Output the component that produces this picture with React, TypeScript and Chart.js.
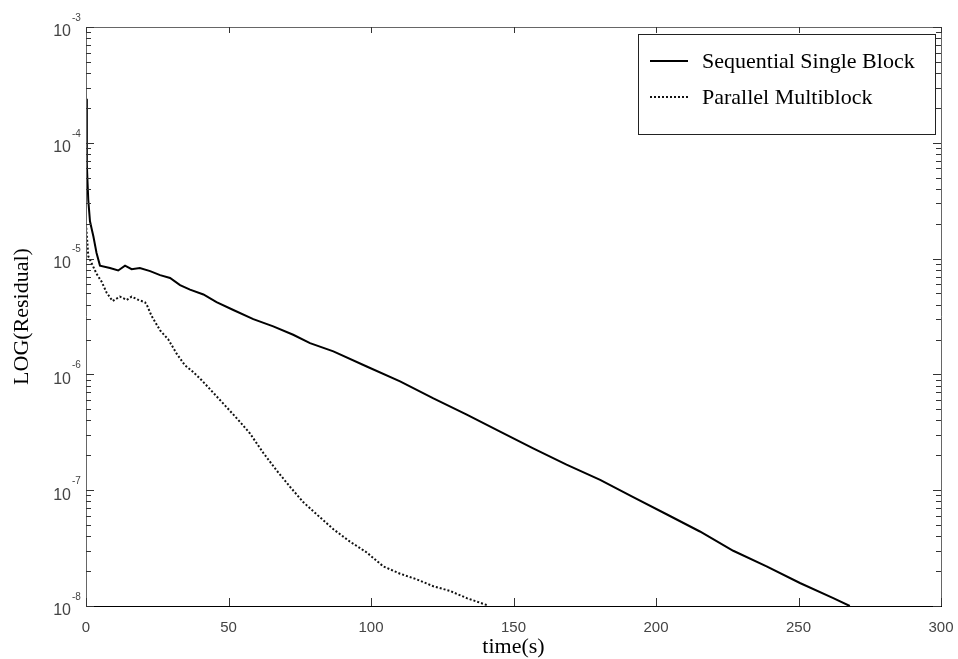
import React, { useEffect, useRef } from "react";
import { Chart, registerables } from "chart.js";

Chart.register(...registerables);

// ---- data ----
const seqTime = [0, 0.3, 0.5, 0.8, 1.4, 2.0, 2.6, 3.7, 4.9, 8.4, 11.3, 13.7, 16, 18.9, 22.5, 26, 29.5, 33, 36.5, 41.2, 45.8, 51.7, 58.7, 65.7, 72.7, 78.6, 86.8, 98.5, 110.2, 121.9, 133.6, 145.3, 156.9, 168.6, 180.4, 192, 203.7, 215.4, 227.1, 238.8, 250.5, 262.2, 268];
const seqResidual = [2.4e-4, 6.5e-5, 4.8e-5, 3.2e-5, 2.1e-5, 1.8e-5, 1.55e-5, 1.12e-5, 8.7e-6, 8.3e-6, 7.9e-6, 8.7e-6, 8.1e-6, 8.3e-6, 7.8e-6, 7.2e-6, 6.8e-6, 5.9e-6, 5.4e-6, 4.9e-6, 4.2e-6, 3.6e-6, 3.0e-6, 2.6e-6, 2.2e-6, 1.86e-6, 1.58e-6, 1.17e-6, 8.7e-7, 6.2e-7, 4.5e-7, 3.2e-7, 2.3e-7, 1.66e-7, 1.23e-7, 8.7e-8, 6.2e-8, 4.4e-8, 3.0e-8, 2.2e-8, 1.58e-8, 1.17e-8, 1.0e-8];

const parTime = [0, 0.8, 2.0, 3.7, 5.5, 7.2, 9.3, 11.9, 14.3, 16, 18.4, 20.7, 21.5, 23, 26, 28.9, 31.8, 34.7, 37.6, 40.6, 45, 50, 54, 57.5, 62.2, 66.9, 71.6, 76.2, 80.9, 86.8, 92.6, 98.5, 104.3, 110.2, 116, 121.9, 127.7, 133.6, 140.6];
const parResidual = [2.0e-5, 1.05e-5, 9.1e-6, 7.4e-6, 6.3e-6, 5.1e-6, 4.3e-6, 4.7e-6, 4.4e-6, 4.7e-6, 4.4e-6, 4.2e-6, 3.9e-6, 3.2e-6, 2.4e-6, 2.0e-6, 1.51e-6, 1.2e-6, 1.05e-6, 8.9e-7, 6.8e-7, 5.0e-7, 3.9e-7, 3.1e-7, 2.1e-7, 1.48e-7, 1.07e-7, 7.9e-8, 6.2e-8, 4.6e-8, 3.6e-8, 2.9e-8, 2.2e-8, 1.9e-8, 1.7e-8, 1.48e-8, 1.35e-8, 1.17e-8, 1.02e-8];

const seriesNames = ["Sequential Single Block", "Parallel Multiblock"];
const xTicks = [0, 50, 100, 150, 200, 250, 300];
const yExponents = [-3, -4, -5, -6, -7, -8];
const yMinorMantissas = [2, 3, 4, 5, 6, 7, 8, 9];
const xTitle = "time(s)";
const yTitle = "LOG(Residual)";

const SANS = "'Liberation Sans', Arial, sans-serif";
const SERIF = "'Liberation Serif', 'Times New Roman', serif";

const framePlugin = {
  id: "framePlugin",
  afterDraw(chart: any) {
    const ctx = chart.ctx as CanvasRenderingContext2D;
    const xs = chart.scales.x;
    const ys = chart.scales.y;
    const { left, right, top, bottom } = chart.chartArea;
    ctx.save();
    // frame
    ctx.lineWidth = 1;
    ctx.strokeStyle = "#666";
    ctx.beginPath();
    ctx.moveTo(left + 0.5, bottom);
    ctx.lineTo(left + 0.5, top + 0.5);
    ctx.lineTo(right + 0.5, top + 0.5);
    ctx.lineTo(right + 0.5, bottom);
    ctx.stroke();
    ctx.strokeStyle = "#000";
    ctx.beginPath();
    ctx.moveTo(left, bottom + 0.5);
    ctx.lineTo(right + 1, bottom + 0.5);
    ctx.stroke();

    // y ticks (major + minor), inward on both sides
    ctx.strokeStyle = "#333";
    ctx.beginPath();
    for (const e of yExponents) {
      const y = Math.round(ys.getPixelForValue(Math.pow(10, e))) + 0.5;
      ctx.moveTo(left, y); ctx.lineTo(left + 8, y);
      ctx.moveTo(right, y); ctx.lineTo(right - 8, y);
      if (e > -8) {
        for (const m of yMinorMantissas) {
          const yy = Math.round(ys.getPixelForValue(m * Math.pow(10, e - 1))) + 0.5;
          ctx.moveTo(left, yy); ctx.lineTo(left + 5, yy);
          ctx.moveTo(right, yy); ctx.lineTo(right - 5, yy);
        }
      }
    }
    // x ticks inward top & bottom
    for (const t of xTicks) {
      const x = Math.round(xs.getPixelForValue(t)) + 0.5;
      ctx.moveTo(x, bottom); ctx.lineTo(x, bottom - 8);
      ctx.moveTo(x, top); ctx.lineTo(x, top + 6);
    }
    ctx.stroke();

    // y tick labels 10^e
    ctx.fillStyle = "#444";
    for (const e of yExponents) {
      const y = ys.getPixelForValue(Math.pow(10, e));
      ctx.font = `16px ${SANS}`;
      ctx.textAlign = "right";
      ctx.textBaseline = "middle";
      ctx.fillText("10", left - 15, y + 5);
      ctx.font = `10px ${SANS}`;
      ctx.textAlign = "left";
      ctx.fillText(String(e), left - 14, y - 9);
    }
    // x tick labels
    ctx.font = `15px ${SANS}`;
    ctx.textAlign = "center";
    ctx.textBaseline = "middle";
    for (const t of xTicks) {
      ctx.fillText(String(t), xs.getPixelForValue(t), bottom + 22);
    }

    // axis titles
    ctx.fillStyle = "#000";
    ctx.font = `22px ${SERIF}`;
    ctx.textAlign = "center";
    ctx.textBaseline = "middle";
    ctx.fillText(xTitle, (left + right) / 2, bottom + 41);
    ctx.save();
    ctx.translate(22, (top + bottom) / 2);
    ctx.rotate(-Math.PI / 2);
    ctx.fillText(yTitle, 0, 0);
    ctx.restore();

    // legend box
    const bx = 638.5, by = 34.5, bw = 297, bh = 100;
    ctx.fillStyle = "#fff";
    ctx.fillRect(bx, by, bw, bh);
    ctx.strokeStyle = "#222";
    ctx.lineWidth = 1;
    ctx.strokeRect(bx, by, bw, bh);
    const rows = [61, 97];
    chart.data.datasets.forEach((ds: any, i: number) => {
      const y = rows[i];
      ctx.strokeStyle = ds.borderColor;
      ctx.lineWidth = ds.borderWidth;
      ctx.setLineDash(ds.borderDash || []);
      ctx.beginPath();
      ctx.moveTo(650, y);
      ctx.lineTo(688, y);
      ctx.stroke();
      ctx.setLineDash([]);
      ctx.fillStyle = "#000";
      ctx.font = `22px ${SERIF}`;
      ctx.textAlign = "left";
      ctx.textBaseline = "middle";
      ctx.fillText(ds.label, 702, y + 1);
    });
    ctx.restore();
  },
};

export default function App() {
  const ref = useRef<HTMLCanvasElement | null>(null);
  useEffect(() => {
    document.body.style.margin = "0";
    const canvas = ref.current!;
    const chart = new Chart(canvas, {
      type: "line",
      data: {
        datasets: [
          {
            label: seriesNames[0],
            data: seqTime.map((t, i) => ({ x: t, y: seqResidual[i] })),
            borderColor: "#000",
            borderWidth: 2,
            pointRadius: 0,
            tension: 0,
          },
          {
            label: seriesNames[1],
            data: parTime.map((t, i) => ({ x: t, y: parResidual[i] })),
            borderColor: "#111",
            borderWidth: 2,
            borderDash: [2, 2],
            pointRadius: 0,
            tension: 0,
          },
        ],
      },
      options: {
        animation: false,
        responsive: false,
        devicePixelRatio: 1,
        layout: { padding: { left: 86, top: 27, right: 17, bottom: 53 } },
        plugins: { legend: { display: false }, tooltip: { enabled: false } },
        scales: {
          x: { type: "linear", min: 0, max: 300, display: false },
          y: { type: "logarithmic", min: 1e-8, max: 1e-3, display: false },
        },
      },
      plugins: [framePlugin],
    });
    return () => chart.destroy();
  }, []);
  return <canvas ref={ref} width={958} height={659} style={{ display: "block" }} />;
}
